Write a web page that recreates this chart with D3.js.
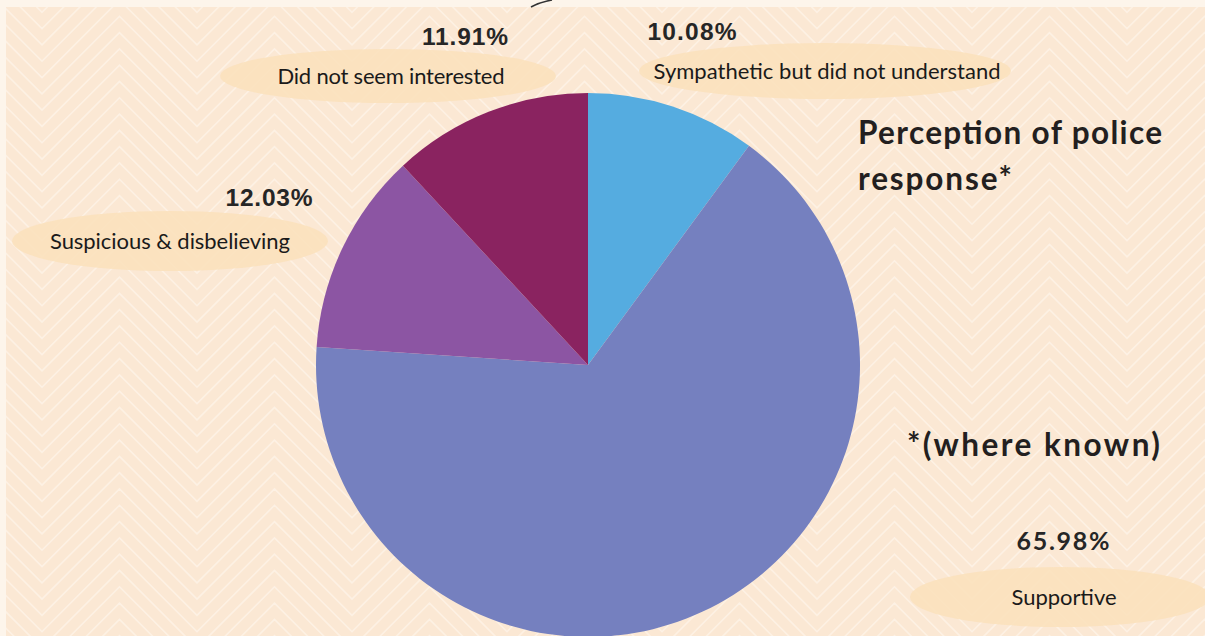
<!DOCTYPE html>
<html><head><meta charset="utf-8">
<script src="https://cdn.jsdelivr.net/npm/d3@7"></script>
<style>html,body{margin:0;padding:0;background:#fdf5eb;}svg{display:block;}</style>
</head><body>
<svg id="chart" width="1205" height="636"></svg>
<script>
const categories = ["Sympathetic but did not understand", "Supportive", "Suspicious & disbelieving", "Did not seem interested"];
const values = [10.08, 65.98, 12.03, 11.91];
const valueLabels = ["10.08%", "65.98%", "12.03%", "11.91%"];
const colors = ["#55ace0", "#7580bf", "#8c55a3", "#8a2360"];

const svg = d3.select("#chart");
const W = 1205, H = 636;

// background
svg.append("rect").attr("x", 0).attr("y", 0).attr("width", W).attr("height", H).attr("fill", "#fdf5eb");
const bgX = 6, bgY = 7;
svg.append("clipPath").attr("id", "bgclip").append("rect").attr("x", bgX).attr("y", bgY).attr("width", W - bgX).attr("height", H - bgY);
const bg = svg.append("g").attr("clip-path", "url(#bgclip)");
bg.append("rect").attr("x", bgX).attr("y", bgY).attr("width", W - bgX).attr("height", H - bgY).attr("fill", "#fbe8d4");
const period = 155, half = period / 2, gap = 16.3;
for (let k = -12; k < 50; k++) {
  const y0 = k * gap;
  const pts = [];
  for (let x = -period + 42; x < W + period; x += half) {
    const i = Math.round((x - 42) / half);
    pts.push([x, y0 + (i % 2 === 0 ? half : 0)]);
  }
  bg.append("path").attr("d", d3.line()(pts)).attr("fill", "none").attr("stroke", "#fdf1e4").attr("stroke-width", 1.6);
}
// small swoosh at top
svg.append("path").attr("d", "M531,7 Q540,2 552,0").attr("fill", "none").attr("stroke", "#333").attr("stroke-width", 1.5);

// pie
const cx = 588, cy = 365, R = 272;
const pie = d3.pie().sort(null).value(d => d)(values);
const arc = d3.arc().innerRadius(0).outerRadius(R);
svg.append("g").attr("transform", `translate(${cx},${cy})`)
  .selectAll("path").data(pie).join("path")
  .attr("d", arc).attr("fill", (d, i) => colors[i]);

// labels
const labelPos = [
  {ex: 825, ey: 71, rx: 186, ry: 28, tx: 827, px: 692, py: 31, tw: 347, pw: 89},
  {ex: 1060, ey: 597, rx: 150, ry: 30, tx: 1064, px: 1063, py: 541, tw: 105, pw: 93},
  {ex: 170, ey: 241, rx: 158, ry: 30, tx: 170, px: 269, py: 197, tw: 240, pw: 87},
  {ex: 388, ey: 76, rx: 168, ry: 27, tx: 391, px: 465, py: 36, tw: 227, pw: 86}
];
const lg = svg.append("g");
categories.forEach((c, i) => {
  const p = labelPos[i];
  lg.append("ellipse").attr("cx", p.ex).attr("cy", p.ey).attr("rx", p.rx).attr("ry", p.ry).attr("fill", "#fbe1bd").attr("opacity", 0.9);
  lg.append("text").attr("x", p.tx).attr("y", p.ey).attr("dy", "0.35em")
    .attr("text-anchor", "middle").attr("font-family", "Lato, 'Open Sans', sans-serif")
    .attr("font-size", 22).attr("fill", "#1a1a1a")
    .attr("textLength", p.tw).attr("lengthAdjust", "spacing").text(c);
  lg.append("text").attr("x", p.px).attr("y", p.py).attr("dy", "0.35em")
    .attr("text-anchor", "middle").attr("font-family", i === 1 ? "Lato, sans-serif" : "'Liberation Sans', Arial, sans-serif")
    .attr("font-weight", "bold").attr("font-size", i === 1 ? 25 : 24.5).attr("fill", "#262626")
    .attr("textLength", p.pw).attr("lengthAdjust", "spacing").text(valueLabels[i]);
});

// title
const tg = svg.append("g").attr("font-family", "Lato, sans-serif").attr("font-weight", "bold").attr("fill", "#231f20").attr("font-size", 31.5);
tg.append("text").attr("x", 858).attr("y", 144).attr("textLength", 304).attr("lengthAdjust", "spacing").text("Perception of police");
tg.append("text").attr("x", 858).attr("y", 190).attr("textLength", 154).attr("lengthAdjust", "spacing").text("response*");
tg.append("text").attr("x", 907).attr("y", 456).attr("textLength", 253).attr("lengthAdjust", "spacing").text("*(where known)");
</script>
</body></html>
